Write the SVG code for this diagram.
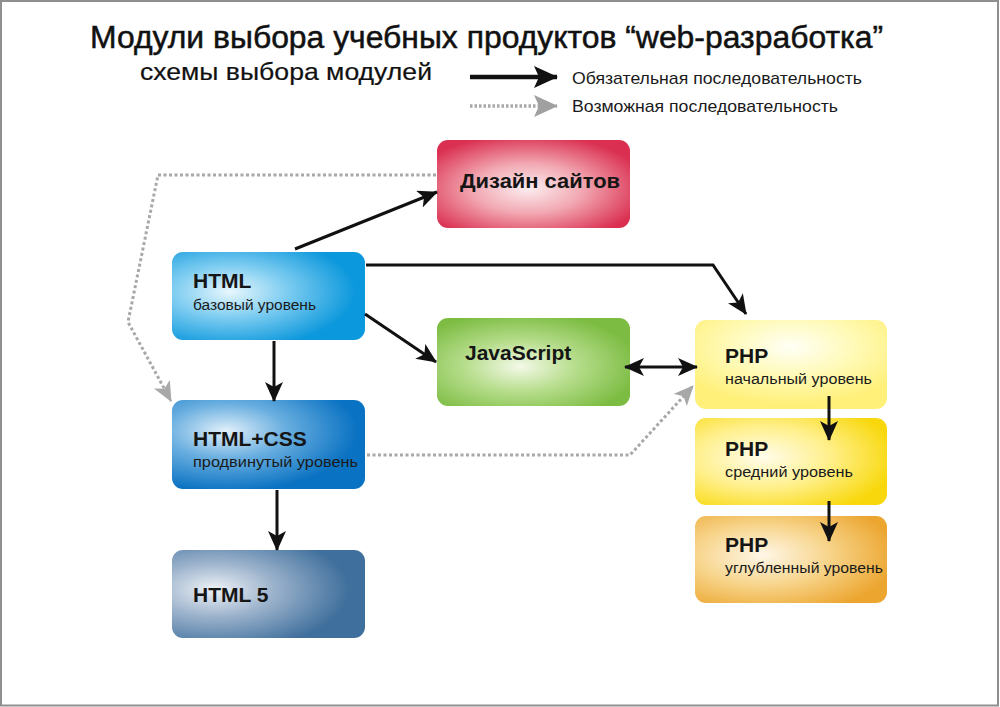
<svg xmlns="http://www.w3.org/2000/svg" width="1000" height="707" viewBox="0 0 1000 707">
<style>
.title{font-family:"Liberation Sans",Arial,sans-serif;fill:#111;stroke:#111;stroke-width:0.5}
.h{font-family:"Liberation Sans",Arial,sans-serif;font-weight:bold;font-size:21px;fill:#151515}
.s{font-family:"Liberation Sans",Arial,sans-serif;font-size:15.5px;fill:#1a1a1a}
.leg{font-family:"Liberation Sans",Arial,sans-serif;font-size:17px;fill:#1a1a1a}
.solid{fill:none;stroke:#111;stroke-width:3}
.dot{fill:none;stroke:#a8a8a8;stroke-width:3;stroke-dasharray:3 2.5}
</style>
<defs>
<marker id="ab" markerUnits="userSpaceOnUse" markerWidth="20" markerHeight="18" viewBox="0 0 20 18" refX="19" refY="9" orient="auto-start-reverse"><path d="M0,0 L20,9 L0,18 L5,9 Z" fill="#111"/></marker>
<marker id="ag" markerUnits="userSpaceOnUse" markerWidth="20" markerHeight="18" viewBox="0 0 20 18" refX="19" refY="9" orient="auto"><path d="M0,0 L20,9 L0,18 L5,9 Z" fill="#a8a8a8"/></marker>
<marker id="abL" markerUnits="userSpaceOnUse" markerWidth="24" markerHeight="22" viewBox="0 0 24 22" refX="23" refY="11" orient="auto"><path d="M0,0 L24,11 L0,22 L5,11 Z" fill="#111"/></marker>
<marker id="agL" markerUnits="userSpaceOnUse" markerWidth="24" markerHeight="22" viewBox="0 0 24 22" refX="23" refY="11" orient="auto"><path d="M0,0 L24,11 L0,22 L5,11 Z" fill="#a0a0a0"/></marker>
<radialGradient id="gRed" cx="0.47" cy="0.55" r="0.62"><stop offset="0" stop-color="#fbeef0"/><stop offset="0.45" stop-color="#f2a9b3"/><stop offset="1" stop-color="#da2f50"/></radialGradient>
<radialGradient id="gBlue" cx="0.3" cy="0.45" r="0.65"><stop offset="0" stop-color="#e8f7fd"/><stop offset="0.45" stop-color="#7fcdf1"/><stop offset="1" stop-color="#0c98dc"/></radialGradient>
<radialGradient id="gGreen" cx="0.43" cy="0.55" r="0.62"><stop offset="0" stop-color="#f3f9e8"/><stop offset="0.45" stop-color="#b8de8e"/><stop offset="1" stop-color="#7cbc42"/></radialGradient>
<radialGradient id="gBlue2" cx="0.28" cy="0.35" r="0.68"><stop offset="0" stop-color="#e2f0fa"/><stop offset="0.45" stop-color="#6aafe0"/><stop offset="1" stop-color="#0a72c2"/></radialGradient>
<radialGradient id="gSteel" cx="0.22" cy="0.45" r="0.7"><stop offset="0" stop-color="#eef2f6"/><stop offset="0.45" stop-color="#9ab1cb"/><stop offset="1" stop-color="#3f6f9c"/></radialGradient>
<radialGradient id="gY1" cx="0.5" cy="0.3" r="0.65"><stop offset="0" stop-color="#fffff6"/><stop offset="0.5" stop-color="#fffab8"/><stop offset="1" stop-color="#fff07a"/></radialGradient>
<radialGradient id="gY2" cx="0.35" cy="0.45" r="0.7"><stop offset="0" stop-color="#fffcec"/><stop offset="0.5" stop-color="#fff08c"/><stop offset="1" stop-color="#f8d80c"/></radialGradient>
<radialGradient id="gY3" cx="0.35" cy="0.45" r="0.7"><stop offset="0" stop-color="#fff7e8"/><stop offset="0.5" stop-color="#f7d48a"/><stop offset="1" stop-color="#eca630"/></radialGradient>
</defs>

<rect x="0" y="0" width="1000" height="707" fill="#fff"/>
<rect x="1" y="1" width="997" height="704.5" fill="none" stroke="#8f8f8f" stroke-width="2"/>

<g id="header">
<text class="title" x="90" y="48" font-size="31" textLength="793" lengthAdjust="spacingAndGlyphs">Модули выбора учебных продуктов “web-разработка”</text>
<text class="title" x="140" y="80" font-size="24" textLength="292" lengthAdjust="spacingAndGlyphs" style="stroke-width:0.2">схемы выбора модулей</text>
</g>

<g id="legend">
<line x1="470" y1="77" x2="557" y2="77" stroke="#111" stroke-width="4.5" marker-end="url(#abL)"/>
<text class="leg" x="572" y="84" textLength="290" lengthAdjust="spacingAndGlyphs">Обязательная последовательность</text>
<line x1="470" y1="106" x2="557" y2="106" stroke="#a8a8a8" stroke-width="3.5" stroke-dasharray="2.5 2" marker-end="url(#agL)"/>
<text class="leg" x="572" y="112" textLength="266" lengthAdjust="spacingAndGlyphs">Возможная последовательность</text>
</g>

<g id="design">
<rect x="437" y="140" width="193" height="88" rx="11" fill="url(#gRed)"/>
<text class="h" x="460" y="188" font-size="22" textLength="160" lengthAdjust="spacingAndGlyphs">Дизайн сайтов</text>
</g>

<g id="html">
<rect x="172" y="252" width="193" height="88" rx="11" fill="url(#gBlue)"/>
<text class="h" x="193" y="288">HTML</text>
<text class="s" x="193" y="310">базовый уровень</text>
</g>

<g id="javascript">
<rect x="437" y="318" width="193" height="88" rx="11" fill="url(#gGreen)"/>
<text class="h" x="465" y="360">JavaScript</text>
</g>

<g id="htmlcss">
<rect x="172" y="400" width="193" height="89" rx="11" fill="url(#gBlue2)"/>
<text class="h" x="193" y="446">HTML+CSS</text>
<text class="s" x="193" y="467" textLength="165" lengthAdjust="spacingAndGlyphs">продвинутый уровень</text>
</g>

<g id="html5">
<rect x="172" y="550" width="193" height="88" rx="11" fill="url(#gSteel)"/>
<text class="h" x="193" y="602">HTML 5</text>
</g>

<g id="php1">
<rect x="695" y="320" width="192" height="89" rx="11" fill="url(#gY1)"/>
<text class="h" x="725" y="363">PHP</text>
<text class="s" x="725" y="384" textLength="147" lengthAdjust="spacingAndGlyphs">начальный уровень</text>
</g>

<g id="php2">
<rect x="695" y="418" width="192" height="87" rx="11" fill="url(#gY2)"/>
<text class="h" x="725" y="456">PHP</text>
<text class="s" x="725" y="477" textLength="128" lengthAdjust="spacingAndGlyphs">средний уровень</text>
</g>

<g id="php3">
<rect x="695" y="516" width="192" height="87" rx="11" fill="url(#gY3)"/>
<text class="h" x="725" y="552">PHP</text>
<text class="s" x="725" y="573" textLength="158" lengthAdjust="spacingAndGlyphs">углубленный уровень</text>
</g>

<g id="connectors">
<line class="solid" x1="295" y1="249" x2="437" y2="192" marker-end="url(#ab)"/>
<polyline class="solid" points="366,265 713,265 746,314" marker-end="url(#ab)"/>
<line class="solid" x1="365" y1="314" x2="436" y2="362" marker-end="url(#ab)"/>
<line class="solid" x1="274" y1="341" x2="274" y2="401" marker-end="url(#ab)"/>
<line class="solid" x1="277" y1="490" x2="277" y2="550" marker-end="url(#ab)"/>
<line class="solid" x1="625" y1="367" x2="697" y2="367" marker-start="url(#ab)" marker-end="url(#ab)"/>
<line class="solid" x1="829" y1="396" x2="829" y2="440" marker-end="url(#ab)"/>
<line class="solid" x1="829" y1="501" x2="829" y2="541" marker-end="url(#ab)"/>
<polyline class="dot" points="436,175 158,175 128,322 171,401" marker-end="url(#ag)"/>
<polyline class="dot" points="367,455 630,455 693,386" marker-end="url(#ag)"/>
</g>
</svg>
